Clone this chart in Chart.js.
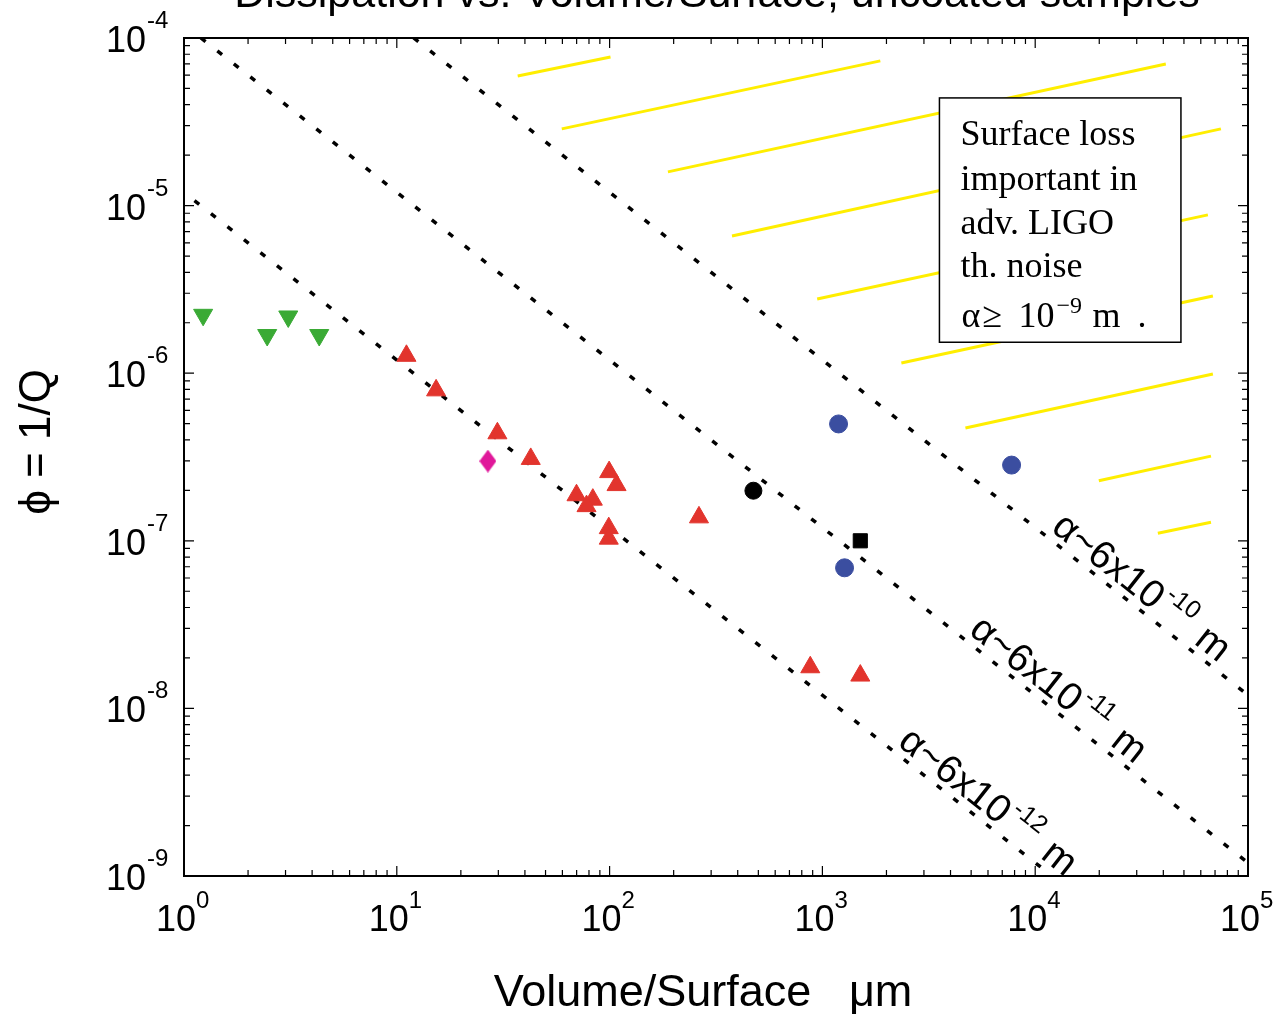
<!DOCTYPE html>
<html>
<head>
<meta charset="utf-8">
<script src="https://cdn.jsdelivr.net/npm/chart.js@4/dist/chart.umd.min.js"></script>
<style>
  body { margin: 0; background: #fff; }
</style>
</head>
<body>
<canvas id="chart" width="1278" height="1018"></canvas>
<script>
// Dissipation vs. Volume/Surface, log-log scatter

var xTickVals = [1, 10, 100, 1000, 10000, 100000];
var xTickExp = ['0', '1', '2', '3', '4', '5'];
var yTickVals = [1e-9, 1e-8, 1e-7, 1e-6, 1e-5, 1e-4];
var yTickExp = ['-9', '-8', '-7', '-6', '-5', '-4'];

// samples
var greenX = [1.23, 2.46, 3.09, 4.32];
var greenY = [2.23e-6, 1.69e-6, 2.18e-6, 1.69e-6];
var redX = [11.1, 15.3, 29.7, 42.6, 99.5, 107.8, 69.9, 83.4, 77.9, 99.1, 99.1, 263, 877, 1507];
var redY = [1.27e-6, 7.9e-7, 4.38e-7, 3.08e-7, 2.57e-7, 2.15e-7, 1.87e-7, 1.76e-7, 1.61e-7, 1.19e-7, 1.03e-7, 1.38e-7, 1.76e-8, 1.57e-8];
var blueX = [1191, 1271, 7745];
var blueY = [4.98e-7, 6.9e-8, 2.83e-7];
var magentaX = [26.8];
var magentaY = [2.99e-7];
var blackCircleX = [474];
var blackCircleY = [1.99e-7];
var blackSquareX = [1507];
var blackSquareY = [1.0e-7];

// alpha lines (endpoints)
var alphaLines = [
  [{x: 12, y: 1e-4}, {x: 1e5, y: 1.2e-8}],
  [{x: 1.2, y: 1e-4}, {x: 1e5, y: 1.2e-9}],
  [{x: 1.12, y: 1.07e-5}, {x: 1.2e4, y: 1e-9}]
];
var alphaExp = ['-10', '-11', '-12'];
var alphaLabelX = [11200, 4600, 2130];

// yellow hatch segments [x1, y1, x2, y2]
var hatch = [
  [37, 5.93e-5, 101, 7.7e-5],
  [59.6, 2.87e-5, 1871, 7.3e-5],
  [188, 1.59e-5, 41100, 7.0e-5],
  [376, 6.59e-6, 74600, 2.87e-5],
  [945, 2.77e-6, 64800, 8.8e-6],
  [2350, 1.15e-6, 68400, 2.89e-6],
  [4700, 4.71e-7, 68400, 9.9e-7],
  [19900, 2.28e-7, 67000, 3.2e-7],
  [37700, 1.11e-7, 67000, 1.29e-7]
];

// note box corners (data units) and its lines
var boxX = [3548, 48400];
var boxY = [4.39e-5, 1.53e-6];
var boxLines = ['Surface loss', 'important in', 'adv. LIGO', 'th. noise'];

function pts(xs, ys) {
  return xs.map(function (x, i) { return {x: x, y: ys[i]}; });
}

// slim diamond for the single magenta point
var diamond = document.createElement('canvas');
diamond.width = 17; diamond.height = 23;
(function () {
  var d = diamond.getContext('2d');
  d.fillStyle = '#e0189a';
  d.beginPath();
  d.moveTo(8.5, 0); d.lineTo(17, 11.5); d.lineTo(8.5, 23); d.lineTo(0, 11.5);
  d.closePath(); d.fill();
})();

var datasets = [];
function marks(data, color, style, r, rot) {
  datasets.push({
    type: 'scatter', data: data, order: 0,
    pointStyle: style, pointRadius: r, pointRotation: rot || 0,
    backgroundColor: color, borderColor: color, borderWidth: 1
  });
}
marks(pts(greenX, greenY), '#3aaa35', 'triangle', 11, 180);
marks(pts(redX, redY), '#e2342d', 'triangle', 11, 0);
marks(pts(blueX, blueY), '#3b4ea0', 'circle', 9, 0);
marks(pts(blackCircleX, blackCircleY), '#000000', 'circle', 8.5, 0);
marks(pts(blackSquareX, blackSquareY), '#000000', 'rect', 10, 0);
marks(pts(magentaX, magentaY), '#e0189a', diamond, 11, 0);

alphaLines.forEach(function (l) {
  datasets.push({
    type: 'line', data: l, order: 1, borderColor: '#000', borderWidth: 3.5,
    borderDash: [6, 15], pointRadius: 0, fill: false
  });
});
hatch.forEach(function (h) {
  datasets.push({
    type: 'line', data: [{x: h[0], y: h[1]}, {x: h[2], y: h[3]}], order: 2,
    borderColor: '#ffee00', borderWidth: 3, pointRadius: 0, fill: false
  });
});

var SANS = '"Liberation Sans", Arial, sans-serif';
var SERIF = '"Liberation Serif", "Times New Roman", serif';

function minors(lo, hi) {
  var out = [];
  for (var d = lo; d < hi * 0.99; d *= 10) {
    for (var m = 2; m <= 9; m++) out.push(d * m);
  }
  return out;
}

var decor = {
  id: 'decor',
  afterDatasetsDraw: function (chart) {
    var ctx = chart.ctx, xs = chart.scales.x, ys = chart.scales.y, a = chart.chartArea;
    ctx.save();

    // line labels
    ctx.fillStyle = '#000';
    alphaLines.forEach(function (l, i) {
      var x1 = xs.getPixelForValue(l[0].x), y1 = ys.getPixelForValue(l[0].y);
      var x2 = xs.getPixelForValue(l[1].x), y2 = ys.getPixelForValue(l[1].y);
      var ang = Math.atan2(y2 - y1, x2 - x1);
      var px = xs.getPixelForValue(alphaLabelX[i]);
      var py = y1 + (px - x1) * (y2 - y1) / (x2 - x1);
      ctx.save();
      ctx.translate(px, py);
      ctx.rotate(ang);
      ctx.textAlign = 'left';
      ctx.textBaseline = 'alphabetic';
      ctx.font = '39px ' + SANS;
      var base = 'α~6x10';
      ctx.fillText(base, 0, -7);
      var w = ctx.measureText(base).width;
      ctx.font = '25px ' + SANS;
      ctx.fillText(alphaExp[i], w + 2, -25);
      var w2 = ctx.measureText(alphaExp[i]).width;
      ctx.font = '39px ' + SANS;
      ctx.fillText('m', w + w2 + 16, -7);
      ctx.restore();
    });

    // note box
    var bl = xs.getPixelForValue(boxX[0]), br = xs.getPixelForValue(boxX[1]);
    var bt = ys.getPixelForValue(boxY[0]), bb = ys.getPixelForValue(boxY[1]);
    ctx.fillStyle = '#fff';
    ctx.fillRect(bl, bt, br - bl, bb - bt);
    ctx.strokeStyle = '#000';
    ctx.lineWidth = 1.5;
    ctx.strokeRect(bl, bt, br - bl, bb - bt);
    ctx.fillStyle = '#000';
    ctx.font = '36px ' + SERIF;
    ctx.textAlign = 'left';
    ctx.textBaseline = 'alphabetic';
    var offs = [47, 92, 136, 179];
    boxLines.forEach(function (t, i) { ctx.fillText(t, bl + 21, bt + offs[i]); });
    var lb = bt + 229;
    ctx.fillText('α', bl + 22, lb);
    ctx.fillText('≥', bl + 43, lb);
    ctx.fillText('10', bl + 79, lb);
    ctx.fillText('m', bl + 153, lb);
    ctx.fillText('.', bl + 198, lb);
    ctx.font = '24px ' + SERIF;
    ctx.fillText('−9', bl + 117, lb - 14);

    // frame
    ctx.strokeStyle = '#000';
    ctx.lineWidth = 2;
    ctx.strokeRect(a.left, a.top, a.right - a.left, a.bottom - a.top);

    // ticks, inward on all four sides
    ctx.lineWidth = 1.2;
    ctx.beginPath();
    function xt(v, len) {
      var p = xs.getPixelForValue(v);
      ctx.moveTo(p, a.bottom); ctx.lineTo(p, a.bottom - len);
      ctx.moveTo(p, a.top); ctx.lineTo(p, a.top + len);
    }
    function yt(v, len) {
      var p = ys.getPixelForValue(v);
      ctx.moveTo(a.left, p); ctx.lineTo(a.left + len, p);
      ctx.moveTo(a.right, p); ctx.lineTo(a.right - len, p);
    }
    xTickVals.forEach(function (v) { xt(v, 10); });
    minors(1, 1e5).forEach(function (v) { xt(v, 6); });
    yTickVals.forEach(function (v) { yt(v, 10); });
    minors(1e-9, 1e-4).forEach(function (v) { yt(v, 6); });
    ctx.stroke();

    // tick labels
    ctx.fillStyle = '#000';
    yTickVals.forEach(function (v, i) {
      var p = ys.getPixelForValue(v);
      ctx.font = '36px ' + SANS;
      ctx.textAlign = 'right';
      ctx.fillText('10', a.left - 38, p + 14);
      ctx.font = '24px ' + SANS;
      ctx.textAlign = 'left';
      ctx.fillText(yTickExp[i], a.left - 37, p - 10);
    });
    xTickVals.forEach(function (v, i) {
      var p = xs.getPixelForValue(v);
      ctx.font = '36px ' + SANS;
      ctx.textAlign = 'left';
      ctx.fillText('10', p - 28, a.bottom + 55);
      ctx.font = '24px ' + SANS;
      ctx.fillText(xTickExp[i], p + 12, a.bottom + 32);
    });

    // axis titles
    ctx.font = '45px ' + SANS;
    ctx.textAlign = 'center';
    ctx.fillText('Volume/Surface   μm', 703, 1006);
    ctx.save();
    ctx.translate(50, 442);
    ctx.rotate(-Math.PI / 2);
    ctx.font = '44px ' + SANS;
    ctx.fillText('ϕ = 1/Q', 0, 0);
    ctx.restore();

    // title, cut at the top edge
    ctx.font = '43px ' + SANS;
    ctx.fillText('Dissipation vs. Volume/Surface, uncoated samples', 717, 7);

    ctx.restore();
  }
};

new Chart(document.getElementById('chart'), {
  data: { datasets: datasets },
  options: {
    responsive: false,
    animation: false,
    devicePixelRatio: 1,
    layout: { padding: { left: 184, top: 38, right: 30, bottom: 142 } },
    plugins: { legend: { display: false }, tooltip: { enabled: false } },
    scales: {
      x: { type: 'logarithmic', min: 1, max: 1e5, display: false },
      y: { type: 'logarithmic', min: 1e-9, max: 1e-4, display: false }
    }
  },
  plugins: [decor]
});
</script>
</body>
</html>
